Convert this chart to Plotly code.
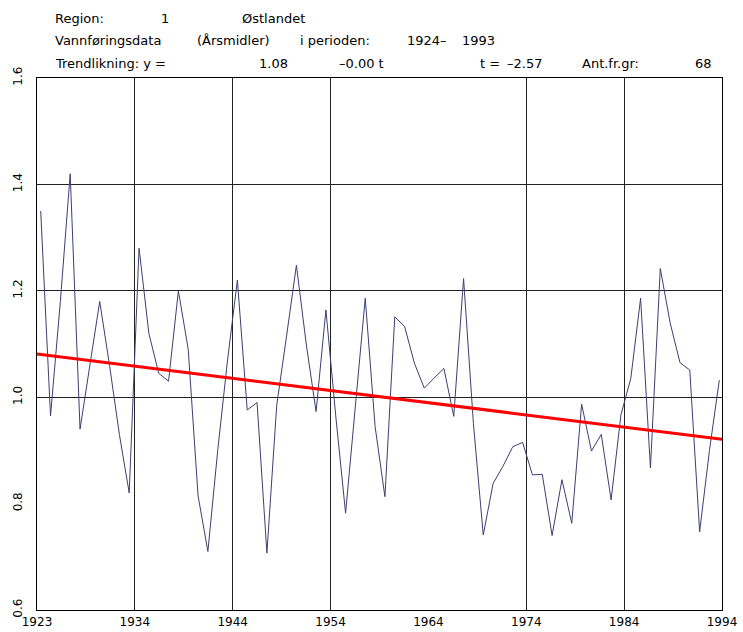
import plotly.graph_objects as go

# ---------------- data ----------------
years = list(range(1924, 1994))
flow = [
    1.35, 0.965, 1.18, 1.42, 0.94, 1.06, 1.18, 1.06, 0.93, 0.82,   # 1924-1933
    1.28, 1.12, 1.045, 1.03, 1.20, 1.09, 0.815, 0.71, 0.90, 1.07,  # 1934-1943
    1.22, 0.976, 0.99, 0.707, 0.985, 1.115, 1.248, 1.10, 0.973, 1.164,  # 1944-1953
    0.965, 0.782, 0.98, 1.186, 0.945, 0.813, 1.151, 1.133, 1.064, 1.017,  # 1954-1963
    1.036, 1.054, 0.964, 1.223, 0.95, 0.741, 0.838, 0.87, 0.907, 0.915,  # 1964-1973
    0.854, 0.855, 0.74, 0.845, 0.763, 0.987, 0.899, 0.93, 0.807, 0.967,  # 1974-1983
    1.035, 1.186, 0.867, 1.242, 1.14, 1.065, 1.051, 0.747, 0.90, 1.032,  # 1984-1993
]
trend_x = [1923.624, 1993.275]
trend_y = [1.081, 0.921]

x_range = [1923.624, 1993.275]
x_tick_labels = ["1923", "1934", "1944", "1954", "1964", "1974", "1984", "1994"]
x_grid_skip = ["1964"]
y_range = [0.6, 1.6]
y_tick_vals = [0.6, 0.8, 1.0, 1.2, 1.4, 1.6]
y_tick_labels = ["0.6", "0.8", "1.0", "1.2", "1.4", "1.6"]
y_grid_vals = [1.0, 1.2, 1.4]

header = [
    ("Region:", 53, 18), ("1", 159, 18), ("Østlandet", 240, 18),
    ("Vannføringsdata", 53, 41), ("(Årsmidler)", 195, 41), ("i perioden:", 298, 41),
    ("1924–", 405, 41), ("1993", 460, 41),
    ("Trendlikning: y =", 53, 64), ("1.08", 257, 64), ("–0.00 t", 337, 64),
    ("t =", 478, 64), ("–2.57", 505, 64), ("Ant.fr.gr:", 580, 64), ("68", 693, 64),
]

# ---------------- figure ----------------
W, H = 743, 632
ML, MR, MT, MB = 37, 21, 78, 22
FONT = "DejaVu Sans"

n_int = len(x_tick_labels) - 1
step = (x_range[1] - x_range[0]) / n_int
x_tick_vals = [x_range[0] + k * step for k in range(len(x_tick_labels))]
x_grid_vals = [v for v, t in zip(x_tick_vals, x_tick_labels) if t not in x_grid_skip]

fig = go.Figure()
fig.add_trace(go.Scatter(x=years, y=flow, mode="lines",
                         line=dict(color="#3f3d72", width=1), hoverinfo="skip"))
fig.add_trace(go.Scatter(x=trend_x, y=trend_y, mode="lines",
                         line=dict(color="#ff0000", width=3), hoverinfo="skip"))
fig.add_trace(go.Scatter(x=x_range, y=y_range, mode="markers", marker=dict(opacity=0),
                         xaxis="x2", yaxis="y2", hoverinfo="skip"))

annotations = []
pw, ph = W - ML - MR, H - MT - MB
for text, px, py in header:
    annotations.append(dict(text=text, x=(px - ML) / pw, y=(H - MB - py) / ph,
                            xref="paper", yref="paper", xanchor="left", yanchor="middle",
                            showarrow=False, font=dict(family=FONT, size=13, color="black")))

fig.update_layout(
    width=W, height=H,
    margin=dict(l=ML, r=MR, t=MT, b=MB, autoexpand=False),
    paper_bgcolor="white", plot_bgcolor="white",
    showlegend=False,
    annotations=annotations,
    xaxis=dict(range=x_range, tickmode="array", tickvals=x_grid_vals, showticklabels=False,
               showgrid=True, gridcolor="#222222", gridwidth=1, zeroline=False,
               showline=True, mirror=True, linecolor="black", linewidth=1, ticks=""),
    yaxis=dict(range=y_range, tickmode="array", tickvals=y_grid_vals, showticklabels=False,
               showgrid=True, gridcolor="#222222", gridwidth=1, zeroline=False,
               showline=True, mirror=True, linecolor="black", linewidth=1, ticks=""),
    xaxis2=dict(range=x_range, overlaying="x", side="bottom", tickmode="array",
                tickvals=x_tick_vals, ticktext=x_tick_labels, showgrid=False, zeroline=False,
                showline=False, ticks="", ticklabelstandoff=3,
                tickfont=dict(family=FONT, size=12, color="black")),
    yaxis2=dict(range=y_range, overlaying="y", side="left", tickmode="array",
                tickvals=y_tick_vals, ticktext=y_tick_labels, tickangle=-90, showgrid=False,
                zeroline=False, showline=False, ticks="", ticklabelstandoff=12,
                tickfont=dict(family=FONT, size=12, color="black")),
)

fig.write_html("out.html")
